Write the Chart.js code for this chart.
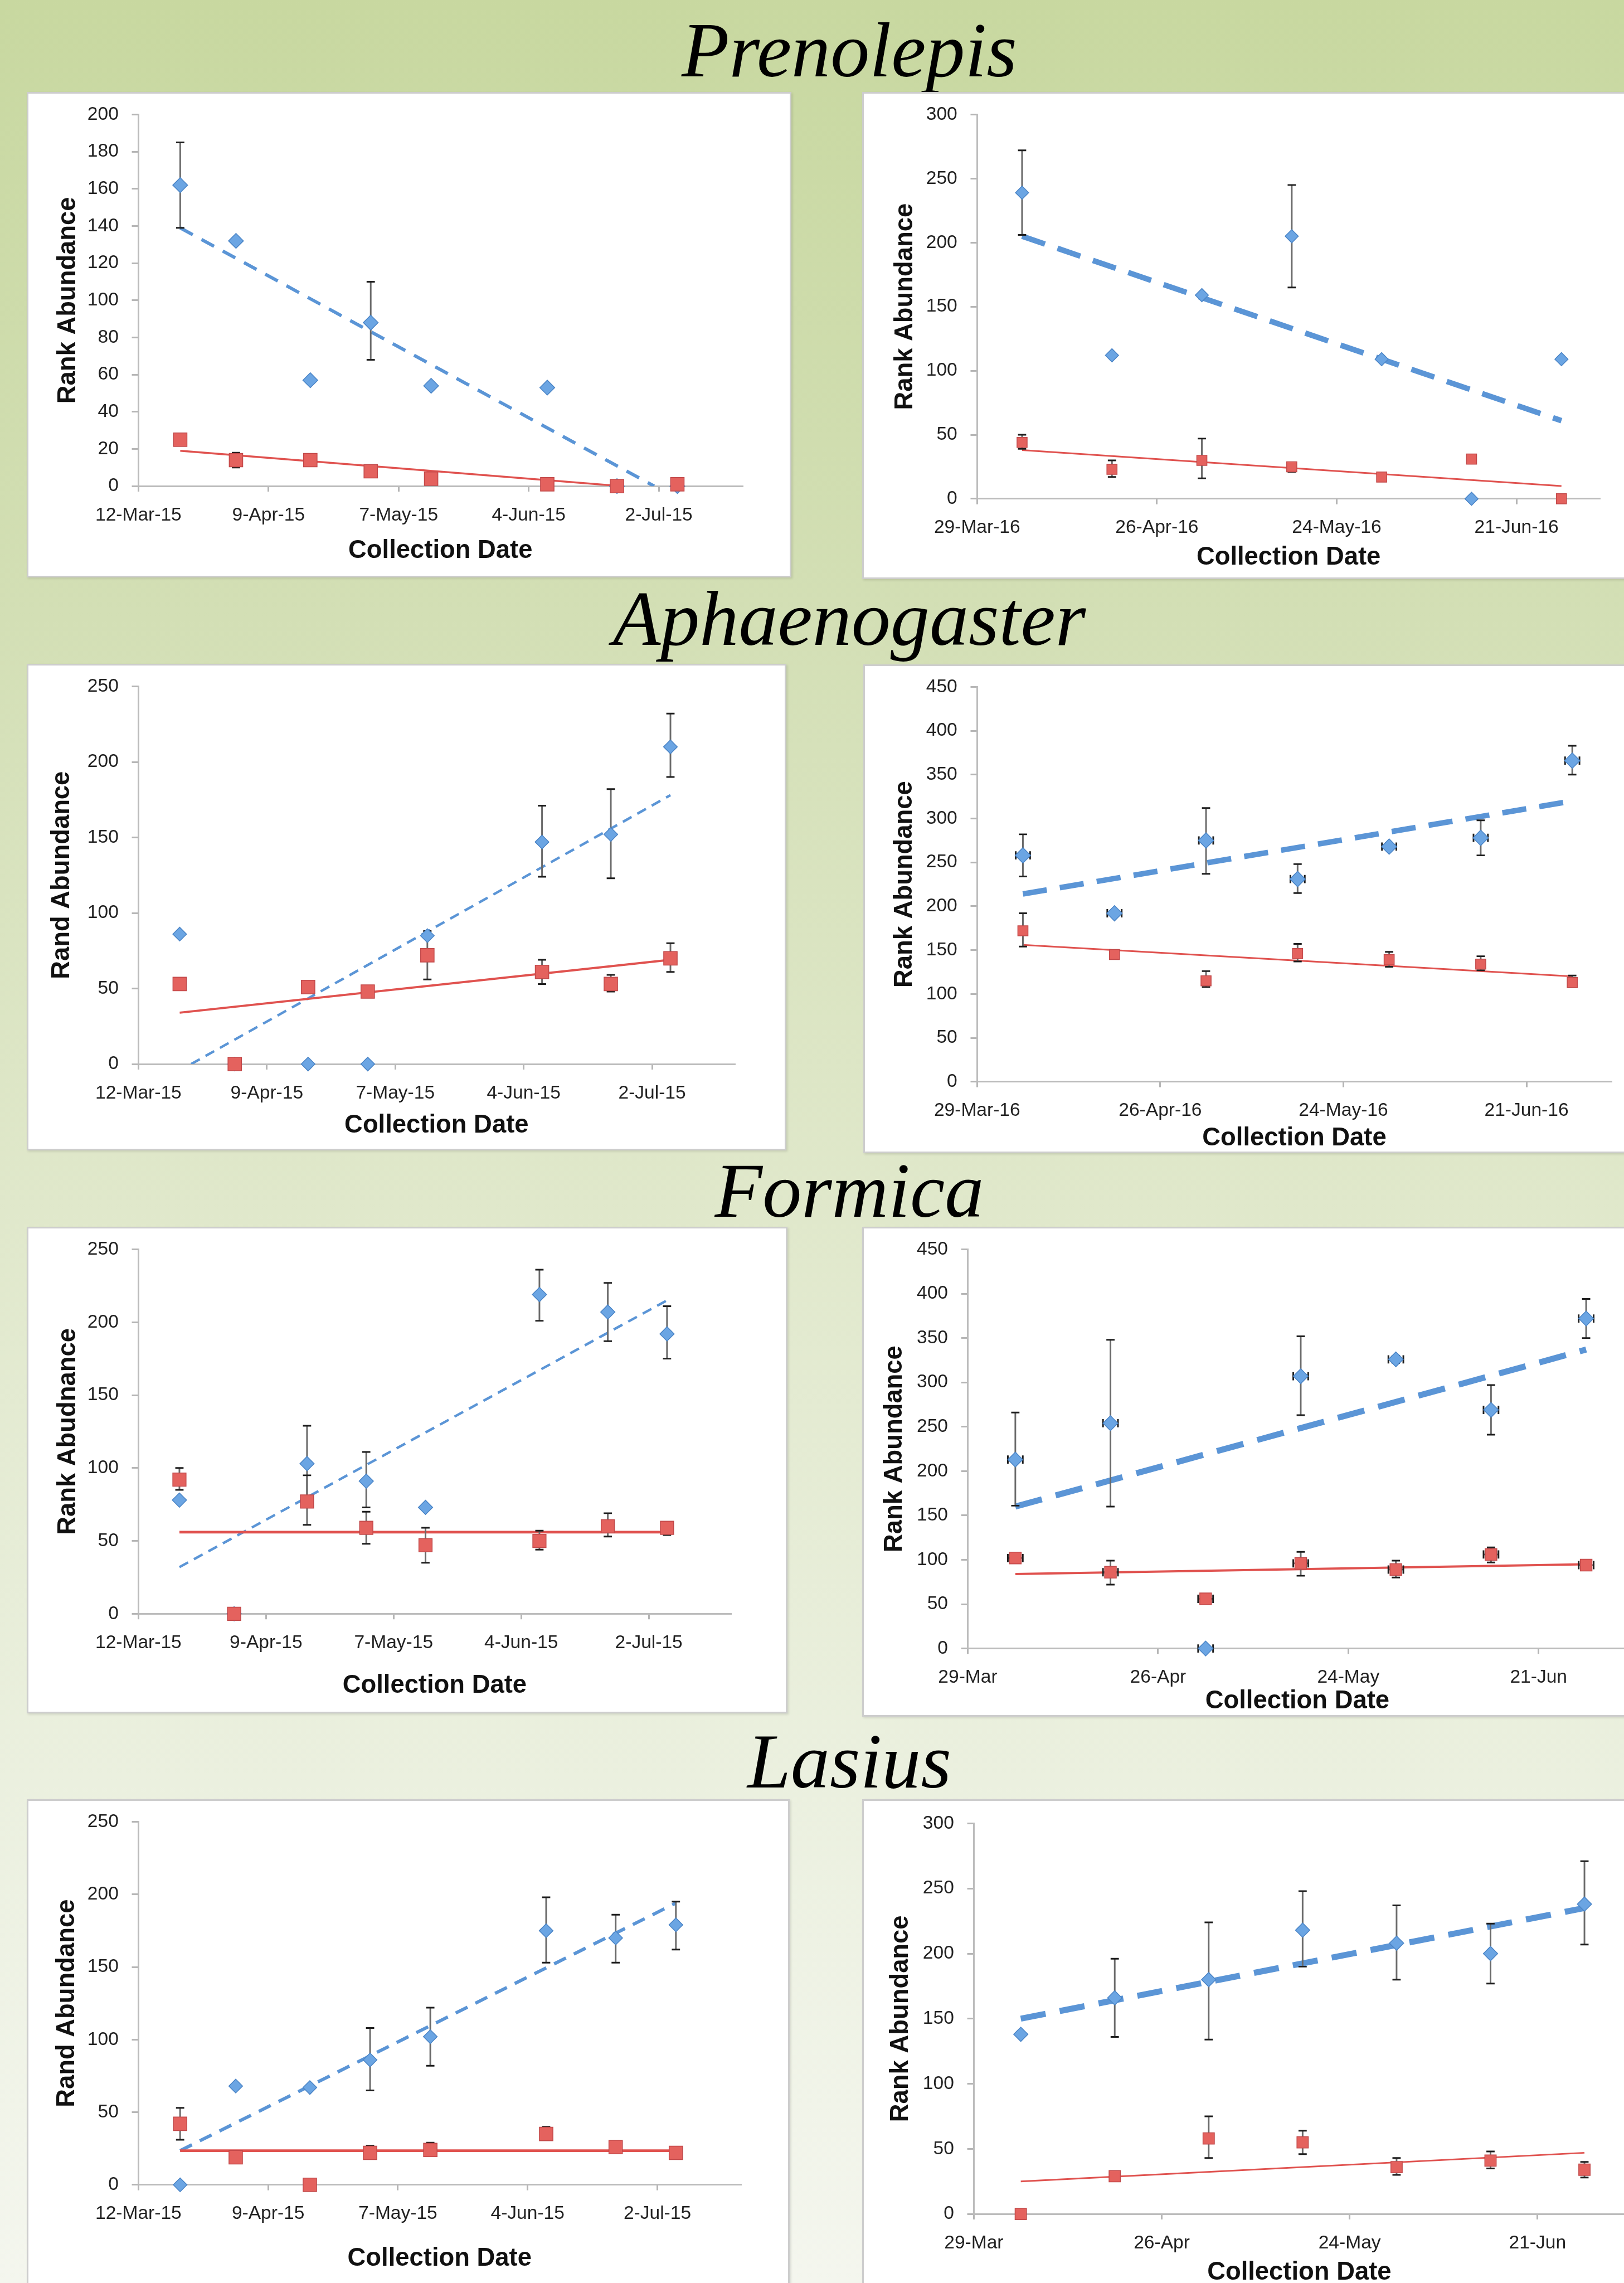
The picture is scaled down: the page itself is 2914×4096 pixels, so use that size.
<!DOCTYPE html>
<html><head><meta charset="utf-8">
<script src="https://cdn.jsdelivr.net/npm/chart.js@4.4.0/dist/chart.umd.min.js"></script>
<style>
html,body{margin:0;padding:0;width:2914px;height:4096px;overflow:hidden;}
body{position:relative;background:linear-gradient(to bottom,#c8d8a0 0%,#d3dfb5 27%,#e0e8cb 53%,#ebf0df 78%,#f4f6ee 100%);}
.title{position:absolute;font-family:'Liberation Serif','Times New Roman',serif;font-style:italic;line-height:1;white-space:nowrap;color:#000;transform:translateX(-50%);}
.box{position:absolute;background:#fff;border:3px solid #cdcdcd;box-sizing:border-box;box-shadow:2px 2px 4px rgba(0,0,0,0.12);}
canvas{position:absolute;}
</style></head><body>
<script>
const S = 0.987;

// ---------- DATA ----------
const speciesTitles = ['Prenolepis', 'Aphaenogaster', 'Formica', 'Lasius'];
const days15 = [9, 21, 37, 50, 63, 88, 103, 116];          // days after 12-Mar-15
const days16 = [7, 21, 35, 49, 63, 77, 91];                // days after 29-Mar-16
const xTickVals15 = [0, 28, 56, 84, 112];
const xLabels15 = ['12-Mar-15', '9-Apr-15', '7-May-15', '4-Jun-15', '2-Jul-15'];
const xTickVals16 = [0, 28, 56, 84];
const xLabels16 = ['29-Mar-16', '26-Apr-16', '24-May-16', '21-Jun-16'];
const xLabels16short = ['29-Mar', '26-Apr', '24-May', '21-Jun'];

const yTicks200 = [0, 20, 40, 60, 80, 100, 120, 140, 160, 180, 200];
const yTicks250 = [0, 50, 100, 150, 200, 250];
const yTicks300 = [0, 50, 100, 150, 200, 250, 300];
const yTicks450 = [0, 50, 100, 150, 200, 250, 300, 350, 400, 450];

// Prenolepis 2015
const blue1 = [162, 132, 57, 88, 54, 53, 0, 0];
const blueErr1 = [[139, 185], null, null, [68, 110], null, null, null, null];
const red1 = [25, 14, 14, 8, 4, 1, 0, 1];
const redErr1 = [null, [10, 18], null, null, null, null, null, null];
const trendBlue1 = [[9, 139], [111, 0]];
const trendRed1 = [[9, 19], [104, 0]];

// Prenolepis 2016
const blue2 = [239, 112, 159, 205, 109, 0, 109];
const blueErr2 = [[206, 272], null, null, [165, 245], null, null, null];
const red2 = [44, 23, 30, 25, 17, 31, 0];
const redErr2 = [[39, 50], [17, 30], [16, 47], [21, 28], null, null, null];
const trendBlue2 = [[7, 205], [91, 61]];
const trendRed2 = [[7, 38], [91, 10]];

// Aphaenogaster 2015
const blue3 = [86, 0, 0, 0, 85, 147, 152, 210];
const blueErr3 = [null, null, null, null, null, [124, 171], [123, 182], [190, 232]];
const red3 = [53, 0, 51, 48, 72, 61, 53, 70];
const redErr3 = [null, null, null, null, [56, 88], [53, 69], [48, 59], [61, 80]];
const trendBlue3 = [[11.5, 0], [116, 178]];
const trendRed3 = [[9, 34], [116, 69]];

// Aphaenogaster 2016
const blue4 = [258, 192, 275, 231, 268, 278, 366];
const blueErr4 = [[234, 282], [190, 195], [237, 312], [215, 248], [265, 272], [258, 298], [350, 383]];
const blueXErr4 = [1.1, 1.1, 1.1, 1.1, 1.1, 1.1, 1.1];
const red4 = [172, 145, 115, 146, 139, 134, 113];
const redErr4 = [[154, 192], [141, 149], [108, 126], [137, 157], [131, 148], [127, 143], [108, 121]];
const trendBlue4 = [[7, 214], [91, 320]];
const trendRed4 = [[7, 156], [91, 120]];

// Formica 2015
const blue5 = [78, 0, 103, 91, 73, 219, 207, 192];
const blueErr5 = [null, null, [77, 129], [73, 111], null, [201, 236], [187, 227], [175, 211]];
const red5 = [92, 0, 77, 59, 47, 50, 60, 59];
const redErr5 = [[85, 100], null, [61, 95], [48, 70], [35, 59], [44, 57], [53, 69], [54, 63]];
const trendBlue5 = [[9, 32], [116, 215]];
const trendRed5 = [[9, 56], [116, 56]];

// Formica 2016
const blue6 = [213, 254, 0, 307, 326, 269, 372];
const blueErr6 = [[161, 266], [160, 348], null, [263, 352], [322, 330], [241, 297], [350, 394]];
const blueXErr6 = [1.1, 1.1, 1.1, 1.1, 1.1, 1.1, 1.1];
const red6 = [102, 86, 56, 96, 89, 106, 94];
const redErr6 = [[99, 105], [72, 99], [53, 59], [82, 109], [80, 99], [97, 114], [91, 97]];
const redXErr6 = [1.1, 1.1, 1.1, 1.1, 1.1, 1.1, 1.1];
const trendBlue6 = [[7, 160], [91, 337]];
const trendRed6 = [[7, 84], [91, 95]];

// Lasius 2015
const blue7 = [0, 68, 67, 86, 102, 175, 170, 179];
const blueErr7 = [null, null, null, [65, 108], [82, 122], [153, 198], [153, 186], [162, 195]];
const red7 = [42, 19, 0, 22, 24, 35, 26, 22];
const redErr7 = [[31, 53], null, null, [19, 27], [21, 29], [31, 40], [24, 29], null];
const trendBlue7 = [[9, 23.5], [116, 194]];
const trendRed7 = [[9, 23.5], [116, 23.5]];

// Lasius 2016
const blue8 = [138, 166, 180, 218, 208, 200, 238];
const blueErr8 = [null, [136, 196], [134, 224], [190, 248], [180, 237], [177, 223], [207, 271]];
const red8 = [0, 29, 58, 55, 36, 41, 34];
const redErr8 = [null, null, [43, 75], [46, 64], [30, 43], [35, 48], [28, 40]];
const trendBlue8 = [[7, 150], [91, 235]];
const trendRed8 = [[7, 25], [91, 47]];

// ---------- PANEL DEFINITIONS ----------
const panels = [
  {x: days15, xt: xTickVals15, xl: xLabels15, xMax: 130, yt: yTicks200, yTitle: 'Rank Abundance',
   blue: blue1, bErr: blueErr1, red: red1, rErr: redErr1, tB: trendBlue1, tR: trendRed1},
  {x: days16, xt: xTickVals16, xl: xLabels16, xMax: 97, yt: yTicks300, yTitle: 'Rank Abundance',
   blue: blue2, bErr: blueErr2, red: red2, rErr: redErr2, tB: trendBlue2, tR: trendRed2},
  {x: days15, xt: xTickVals15, xl: xLabels15, xMax: 130, yt: yTicks250, yTitle: 'Rand Abundance',
   blue: blue3, bErr: blueErr3, red: red3, rErr: redErr3, tB: trendBlue3, tR: trendRed3},
  {x: days16, xt: xTickVals16, xl: xLabels16, xMax: 97, yt: yTicks450, yTitle: 'Rank Abundance',
   blue: blue4, bErr: blueErr4, bXErr: blueXErr4, red: red4, rErr: redErr4, tB: trendBlue4, tR: trendRed4},
  {x: days15, xt: xTickVals15, xl: xLabels15, xMax: 130, yt: yTicks250, yTitle: 'Rank Abudnance',
   blue: blue5, bErr: blueErr5, red: red5, rErr: redErr5, tB: trendBlue5, tR: trendRed5},
  {x: days16, xt: xTickVals16, xl: xLabels16short, xMax: 97, yt: yTicks450, yTitle: 'Rank Abundance',
   blue: blue6, bErr: blueErr6, bXErr: blueXErr6, red: red6, rErr: redErr6, rXErr: redXErr6, tB: trendBlue6, tR: trendRed6},
  {x: days15, xt: xTickVals15, xl: xLabels15, xMax: 130, yt: yTicks250, yTitle: 'Rand Abundance',
   blue: blue7, bErr: blueErr7, red: red7, rErr: redErr7, tB: trendBlue7, tR: trendRed7},
  {x: days16, xt: xTickVals16, xl: xLabels16short, xMax: 97, yt: yTicks300, yTitle: 'Rank Abundance',
   blue: blue8, bErr: blueErr8, red: red8, rErr: redErr8, tB: trendBlue8, tR: trendRed8}
];

// ---------- LAYOUT (reference pixels) ----------
const geo = [
  {L: 49,   T: 167,  R: 1439, B: 1049, ax: 252,  xe: 1350, ytop: 199.5, y0: 883,  ytx: 124,  xty: 1001},
  {L: 1567, T: 167,  R: 2975, B: 1053, ax: 1776, xe: 2908, ytop: 203,   y0: 907,  ytx: 1646, xty: 1014},
  {L: 49,   T: 1207, R: 1430, B: 2091, ax: 252,  xe: 1336, ytop: 1241,  y0: 1934, ytx: 113,  xty: 2046},
  {L: 1569, T: 1208, R: 2975, B: 2097, ax: 1776, xe: 2929, ytop: 1246,  y0: 1967, ytx: 1644, xty: 2070},
  {L: 49,   T: 2230, R: 1432, B: 3115, ax: 252,  xe: 1329, ytop: 2265,  y0: 2934, ytx: 124,  xty: 3065},
  {L: 1567, T: 2230, R: 2975, B: 3121, ax: 1759, xe: 2957, ytop: 2269,  y0: 2997, ytx: 1626, xty: 3093},
  {L: 49,   T: 3271, R: 1436, B: 4190, ax: 252,  xe: 1347, ytop: 3302,  y0: 3972, ytx: 122,  xty: 4106},
  {L: 1567, T: 3271, R: 2975, B: 4190, ax: 1770, xe: 2953, ytop: 3315,  y0: 4025, ytx: 1637, xty: 4132}
];
const sty = [
  {bw: 6,  dash: [26, 18], rw: 3.5, br: 13.5, rr: 17.3},
  {bw: 10, dash: [44, 24], rw: 3,   br: 12,   rr: 13},
  {bw: 4.5,dash: [18, 12], rw: 4,   br: 12.5, rr: 17.3},
  {bw: 10, dash: [44, 24], rw: 3,   br: 14,   rr: 13},
  {bw: 4.5,dash: [18, 12], rw: 5,   br: 13,   rr: 17},
  {bw: 11, dash: [50, 26], rw: 4,   br: 13.5, rr: 15},
  {bw: 6,  dash: [24, 16], rw: 5,   br: 12.5, rr: 17.3},
  {bw: 11, dash: [46, 26], rw: 3,   br: 13,   rr: 14.6}
];
const titleBaselines = [139, 1173, 2212, 3250];
const titleCenterX = 1544;

const TICK_F = 34 * S, AX_TITLE_F = 46 * S;
const SANS = "'Liberation Sans', Arial, sans-serif";

// ---------- TITLES ----------
speciesTitles.forEach((t, i) => {
  const d = document.createElement('div');
  d.className = 'title';
  const F = 142 * S;
  d.style.fontSize = F + 'px';
  d.style.left = (titleCenterX * S) + 'px';
  d.style.top = (titleBaselines[i] * S - 0.8375 * F) + 'px';
  d.textContent = t;
  document.body.appendChild(d);
});

function errPlugin(P) {
  return {
    id: 'errbars',
    beforeDatasetDraw(chart, args) {
      if (args.index !== 1) return;
      const xs = chart.scales.x, ys = chart.scales.y, ctx = chart.ctx;
      const cap = 7.5 * S;
      ctx.save();
      ctx.lineCap = 'butt';
      const sets = [[P.blue, P.bErr, P.bXErr], [P.red, P.rErr, P.rXErr]];
      sets.forEach(([vals, err, xerr]) => {
        P.x.forEach((xv, i) => {
          const px = xs.getPixelForValue(xv);
          if (err && err[i]) {
            const y1 = ys.getPixelForValue(err[i][0]), y2 = ys.getPixelForValue(err[i][1]);
            ctx.strokeStyle = '#6a6a6a'; ctx.lineWidth = 3 * S;
            ctx.beginPath(); ctx.moveTo(px, y1); ctx.lineTo(px, y2); ctx.stroke();
            ctx.strokeStyle = '#1e1e1e'; ctx.lineWidth = 3 * S;
            ctx.beginPath();
            ctx.moveTo(px - cap, y1); ctx.lineTo(px + cap, y1);
            ctx.moveTo(px - cap, y2); ctx.lineTo(px + cap, y2);
            ctx.stroke();
          }
          if (xerr && xerr[i]) {
            const py = ys.getPixelForValue(vals[i]);
            const x1 = xs.getPixelForValue(xv - xerr[i]), x2 = xs.getPixelForValue(xv + xerr[i]);
            ctx.strokeStyle = '#6a6a6a'; ctx.lineWidth = 3 * S;
            ctx.beginPath(); ctx.moveTo(x1, py); ctx.lineTo(x2, py); ctx.stroke();
            ctx.strokeStyle = '#1e1e1e';
            ctx.beginPath();
            ctx.moveTo(x1, py - cap); ctx.lineTo(x1, py + cap);
            ctx.moveTo(x2, py - cap); ctx.lineTo(x2, py + cap);
            ctx.stroke();
          }
        });
      });
      ctx.restore();
    }
  };
}

panels.forEach((P, i) => {
  const g = geo[i], st = sty[i];
  const L = g.L * S, T = g.T * S;
  const W = Math.round((g.R - g.L) * S), H = Math.round((g.B - g.T) * S);
  const box = document.createElement('div');
  box.className = 'box';
  box.style.left = L + 'px'; box.style.top = T + 'px';
  box.style.width = W + 'px'; box.style.height = H + 'px';
  document.body.appendChild(box);
  const cv = document.createElement('canvas');
  cv.width = W; cv.height = H;
  cv.style.left = L + 'px'; cv.style.top = T + 'px';
  cv.style.width = W + 'px'; cv.style.height = H + 'px';
  document.body.appendChild(cv);

  const yAxisW = (g.ax - g.L) * S;
  const xAxisH = (g.B - g.y0) * S;
  const padTop = (g.ytop - g.T) * S;
  const padRight = (g.R - g.xe) * S;
  const yTitlePad = (g.ytx - g.L) * S - AX_TITLE_F / 2;
  const xTitlePad = (g.B - g.xty) * S - AX_TITLE_F / 2;

  const pts = vals => P.x.map((x, k) => ({x: x, y: vals[k]}));
  const line = arr => arr.map(([x, y]) => ({x: x, y: y}));

  new Chart(cv, {
    type: 'scatter',
    data: {
      datasets: [
        {type: 'scatter', data: pts(P.red), pointStyle: 'rect', pointRadius: st.rr * S,
         backgroundColor: '#e4625e', borderColor: '#c2494a', borderWidth: 1.5 * S, clip: false},
        {type: 'scatter', data: pts(P.blue), pointStyle: 'rectRot', pointRadius: st.br * S,
         backgroundColor: '#6ba5e3', borderColor: '#4a84c6', borderWidth: 1.5 * S, clip: false},
        {type: 'line', data: line(P.tR), borderColor: '#e0524f', borderWidth: st.rw * S,
         pointRadius: 0, fill: false, tension: 0},
        {type: 'line', data: line(P.tB), borderColor: '#5b95d6', borderWidth: st.bw * S,
         borderDash: st.dash.map(v => v * S), borderCapStyle: 'butt', pointRadius: 0, fill: false, tension: 0}
      ]
    },
    options: {
      responsive: false, animation: false, devicePixelRatio: 1, events: [],
      layout: {padding: {left: 0, top: padTop, right: padRight, bottom: 0}},
      plugins: {legend: {display: false}, tooltip: {enabled: false}},
      scales: {
        x: {
          type: 'linear', min: 0, max: P.xMax,
          afterBuildTicks: s => { s.ticks = P.xt.map(v => ({value: v})); },
          afterFit: s => { s.height = xAxisH; },
          ticks: {callback: (v, idx) => P.xl[idx], font: {family: SANS, size: TICK_F, lineHeight: 1},
                  color: '#222', padding: 26 * S, maxRotation: 0, autoSkip: false},
          grid: {drawOnChartArea: false, tickLength: 10 * S, color: '#b5b5b5', lineWidth: 3 * S},
          border: {display: true, color: '#bcbcbc', width: 3 * S},
          title: {display: true, text: 'Collection Date', color: '#111',
                  font: {family: SANS, size: AX_TITLE_F, weight: 'bold', lineHeight: 1},
                  padding: {top: 0, bottom: xTitlePad}}
        },
        y: {
          type: 'linear', min: 0, max: P.yt[P.yt.length - 1],
          afterBuildTicks: s => { s.ticks = P.yt.map(v => ({value: v})); },
          afterFit: s => { s.width = yAxisW; },
          ticks: {font: {family: SANS, size: TICK_F, lineHeight: 1}, color: '#222', padding: 24 * S},
          grid: {drawOnChartArea: false, tickLength: 12 * S, color: '#b5b5b5', lineWidth: 3 * S},
          border: {display: true, color: '#bcbcbc', width: 3 * S},
          title: {display: true, text: P.yTitle, color: '#111',
                  font: {family: SANS, size: AX_TITLE_F, weight: 'bold', lineHeight: 1},
                  padding: {top: yTitlePad, bottom: 0}}
        }
      }
    },
    plugins: [errPlugin(P)]
  });
});
</script>
</body></html>
